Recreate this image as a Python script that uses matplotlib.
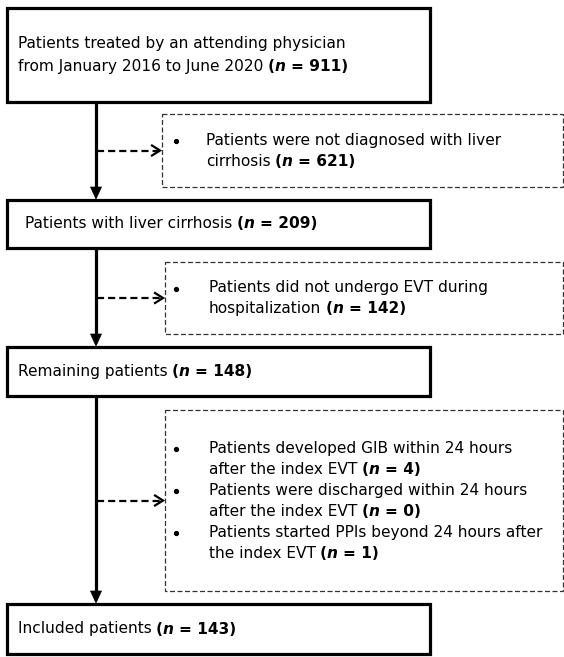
import matplotlib
matplotlib.use("Agg")
import matplotlib.pyplot as plt
from matplotlib.patches import Rectangle, Polygon

W, H = 564, 657
FONT = "DejaVu Sans"
FS = 11.1

# ---- content ----
main_texts = [
    [("Patients treated by an attending physician", None), ("from January 2016 to June 2020", "911")],
    [("Patients with liver cirrhosis", "209")],
    [("Remaining patients", "148")],
    [("Included patients", "143")],
]
excl_texts = [
    [[("Patients were not diagnosed with liver", None), ("cirrhosis", "621")]],
    [[("Patients did not undergo EVT during", None), ("hospitalization", "142")]],
    [[("Patients developed GIB within 24 hours", None), ("after the index EVT", "4")],
     [("Patients were discharged within 24 hours", None), ("after the index EVT", "0")],
     [("Patients started PPIs beyond 24 hours after", None), ("the index EVT", "1")]],
]

# ---- layout (pixels) ----
main_y = [(8, 102), (200, 248), (347, 396), (604, 654)]
main_x = (7, 430)
main_text_x = [18, 25, 18, 18]
excl_y = [(114, 187), (262, 334), (410, 591)]
excl_x0 = [162, 165, 165]
excl_x1 = 563
excl_text_x = [206, 209, 209]
bullet_x = 176
spine_x = 96
main_ls = 23
excl_ls = 21

fig = plt.figure(figsize=(W / 100, H / 100), dpi=100)
ax = fig.add_axes([0, 0, 1, 1])
ax.set_xlim(0, W)
ax.set_ylim(H, 0)
ax.axis("off")
renderer = fig.canvas.get_renderer()


def text_w(s, **kw):
    t = ax.text(0, 0, s, fontsize=FS, family=FONT, **kw)
    bb = t.get_window_extent(renderer)
    t.remove()
    return bb.width  # pixels == data units


SPACE = text_w("a a") - text_w("aa")
SPACE_B = text_w("a a", weight="bold") - text_w("aa", weight="bold")


def draw_line(x, y, plain, n):
    ax.text(x, y, plain, fontsize=FS, family=FONT, va="center", ha="left")
    if n is None:
        return
    cx = x + text_w(plain) + SPACE * 0.8
    parts = [("(", "bold", "normal"), ("n", "bold", "italic"), (" = " + n + ")", "bold", "normal")]
    for s, wgt, sty in parts:
        if s.startswith(" "):
            cx += SPACE_B
            s = s[1:]
        ax.text(cx, y, s, fontsize=FS, family=FONT, weight=wgt, style=sty, va="center", ha="left")
        cx += text_w(s, weight=wgt, style=sty)


# main boxes
for (y0, y1), lines, tx in zip(main_y, main_texts, main_text_x):
    ax.add_patch(Rectangle((main_x[0], y0), main_x[1] - main_x[0], y1 - y0,
                           fill=False, ec="black", lw=2.3, joinstyle="miter"))
    cy = (y0 + y1) / 2
    n = len(lines)
    for i, (plain, num) in enumerate(lines):
        draw_line(tx, cy + (i - (n - 1) / 2) * main_ls, plain, num)

# vertical arrows between main boxes
for i in range(len(main_y) - 1):
    ys, ye = main_y[i][1] + 1, main_y[i + 1][0] - 1
    ax.plot([spine_x, spine_x], [ys, ye - 10], color="black", lw=2.3, solid_capstyle="butt")
    ax.add_patch(Polygon([[spine_x - 5.5, ye - 12], [spine_x + 5.5, ye - 12], [spine_x, ye]],
                         closed=True, fc="black", ec="black", lw=0.5))

# exclusion boxes
for (y0, y1), x0, tx, items in zip(excl_y, excl_x0, excl_text_x, excl_texts):
    ax.add_patch(Rectangle((x0, y0), excl_x1 - x0, y1 - y0, fill=False, ec="#333333",
                           lw=0.9, ls=(0, (4, 2))))
    cy = (y0 + y1) / 2
    lines = []
    for item in items:
        for j, ln in enumerate(item):
            lines.append((j == 0, ln))
    n = len(lines)
    for i, (bul, (plain, num)) in enumerate(lines):
        yy = cy + (i - (n - 1) / 2) * excl_ls
        if bul:
            ax.plot([bullet_x], [yy + 1], marker="o", ms=2.8, color="black", mec="black")
        draw_line(tx, yy, plain, num)
    # dashed arrow
    ay = cy
    ax.plot([spine_x + 1, x0 - 2], [ay, ay], color="black", lw=1.6, ls=(0, (3.2, 1.8)))
    ax.plot([x0 - 10, x0 - 2, x0 - 10], [ay - 5, ay, ay + 5], color="black", lw=1.6,
            solid_joinstyle="miter")

fig.savefig("out.png", dpi=100)
